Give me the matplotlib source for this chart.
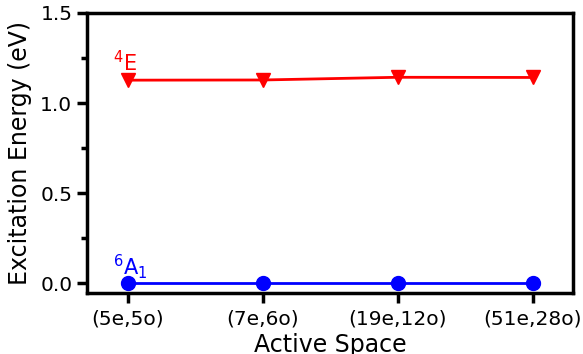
import matplotlib
matplotlib.use("Agg")
import matplotlib.pyplot as plt
from matplotlib.ticker import MultipleLocator

categories = ["(5e,5o)", "(7e,6o)", "(19e,12o)", "(51e,28o)"]
e_4E = [1.127, 1.128, 1.143, 1.142]
e_6A1 = [0.0, 0.0, 0.0, 0.0]

fig = plt.figure(figsize=(5.83, 3.54), dpi=100)
ax = fig.add_axes([87/583, 1-293/354, (573-87)/583, (293-13)/354])
x = list(range(len(categories)))
ax.plot(x, e_4E, color="red", marker="v", markersize=10, linewidth=2)
ax.plot(x, e_6A1, color="blue", marker="o", markersize=10, linewidth=2)
ax.set_xlim(-0.3, 3.3)
ax.set_ylim(-0.055, 1.5)
ax.set_xticks(x)
ax.set_xticklabels(categories)
ax.yaxis.set_major_locator(MultipleLocator(0.5))
ax.yaxis.set_minor_locator(MultipleLocator(0.25))
ax.tick_params(axis="both", which="major", labelsize=14.5, width=2.5, length=7)
ax.tick_params(axis="x", which="major", pad=5)
ax.tick_params(axis="y", which="minor", width=2.5, length=4)
for s in ax.spines.values():
    s.set_linewidth(2.5)
ax.set_xlabel("Active Space", fontsize=17, labelpad=3)
ax.set_ylabel("Excitation Energy (eV)", fontsize=17, labelpad=6)
ax.text(-0.02, e_4E[0] + 0.03, "$^4$E", color="red", fontsize=15, ha="center", va="bottom")
ax.text(0.02, e_6A1[0] + 0.012, "$^6$A$_1$", color="blue", fontsize=15, ha="center", va="bottom")
fig.savefig("out.png", dpi=100)
